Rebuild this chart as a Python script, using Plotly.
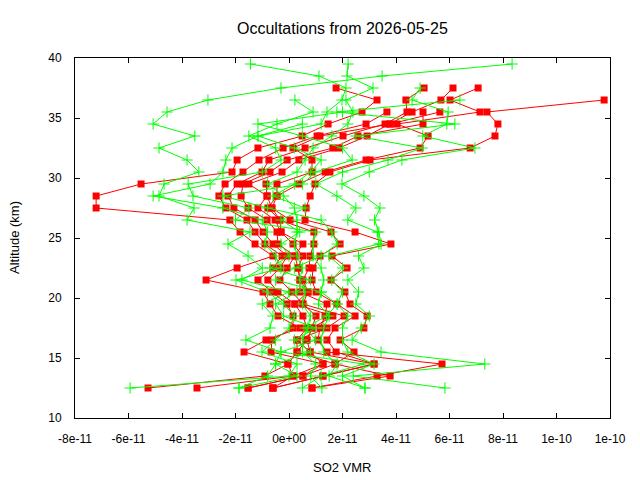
import plotly.graph_objects as go

SCALE = 1e-11  # values below are in units of 1e-11 VMR

# Altitude levels (km)
alt_red = [37.5, 36.5, 35.5, 34.5, 33.5, 32.5, 31.5, 30.5, 29.5, 28.5, 27.5, 26.5, 25.5,
           24.5, 23.5, 22.5, 21.5, 20.5, 19.5, 18.5, 17.5, 16.5, 15.5, 14.5, 13.5, 12.5]
alt_green = [39.5, 38.5] + alt_red

# Red profiles (SO2 VMR, x1e-11)
red_A = [1.76, 3.29, 2.73, 1.46, 0.49, -1.16, -1.94, -2.13, -5.53, -7.21, -7.21, -2.21, -1.83,
         -1.27, -0.60, -1.94, -3.10, -0.97, -0.71, -0.41, 0.41, -0.86, -1.68, -0.04, -0.90, -5.27]
red_B = [None, None, 3.66, 2.88, 1.05, -0.22, -1.12, -1.72, -2.39, -2.62, -2.36, -1.57, -1.27,
         -0.90, -0.26, -0.60, -1.16, -0.64, -0.07, 0.15, 0.15, -0.64, -0.67, 1.27, 0.15, -3.44]
red_C = [5.05, 4.37, 4.41, 3.59, 2.02, 0.60, -0.75, -1.01, -1.94, -2.28, -2.06, -1.27, -0.97,
         -0.60, -0.07, -0.34, -0.79, -0.41, 0.22, 0.52, 0.67, 0.30, 0.30, 1.72, 0.52, -1.53]
red_D = [None, None, 5.01, 5.01, 2.58, 1.64, -0.07, -0.71, -1.72, -1.79, -1.53, -0.82, -0.45,
         -0.41, 0.22, -0.07, -0.34, 0.11, 0.52, 1.01, 0.86, 0.67, 0.79, 3.18, 1.27, -0.60]
red_E = [6.13, 5.68, 4.60, 3.78, 2.92, 1.87, 0.37, -0.26, -1.50, -0.82, -1.16, -0.52, -0.30,
         0.15, 0.52, 0.34, 0.41, 0.41, 1.42, 1.35, 1.16, 1.08, 1.42, 5.72, 3.29, 0.86]
red_F = [None, 11.78, 7.40, 7.81, 7.70, 6.77, 3.03, 1.53, 0.97, 0.79, 0.64, 0.60, 2.47,
         3.81, 1.61, 2.17, 1.57, 2.09, 2.28, 2.92, 2.80, 1.91, 2.43, 1.72, 3.78, 0.86]
red_G = [7.07, 6.02, 7.14, 4.04, 5.20, 4.90, 2.88, 1.35, 0.37, -0.45, -0.64, 0.04, 1.57,
         1.91, 1.16, 0.90, 0.86, 1.01, 1.79, 2.47, 1.72, 1.42, 1.76, 3.18, 1.27, -0.60]
red_H = [None, None, 5.64, 3.78, 1.16, 0.15, 0.86, 0.86, -0.45, -0.45, -0.79, -0.34, 0.93,
         0.93, 0.79, 0.75, 0.52, 0.71, 0.52, 2.06, 1.42, 0.30, 0.79, 1.27, 0.52, -1.53]
red_I = [None, None, None, None, None, None, None, None, -0.86, -0.82, -0.64, -0.34, -0.30,
         0.52, 0.22, 0.34, 0.41, 0.71, 0.22, 1.64, 0.86, 0.67, 0.30, -0.04, 0.15, -0.60]

# Green profiles (SO2 VMR, x1e-11)
grn_a = [-1.44, 1.12, 2.13, 1.98, 1.42, 1.20, -1.16, -2.13, -2.36, -2.47, -2.95, -5.08, -2.47, -1.00,
         -0.80, -0.90, -0.50, -0.30, -1.98, -0.80, -0.20, 0.20, 0.00, -0.50, -1.01, 0.30, 0.00, -5.94]
grn_b = [2.21, 2.17, 3.14, 2.13, 2.39, 2.20, 1.60, 0.90, 0.60, 0.30, -0.80, -0.20, 0.20, 0.30,
         0.30, 0.20, 0.30, 0.50, 0.40, 0.60, 0.50, 0.80, 0.70, 0.50, 0.50, 1.00, 0.80, 1.23]
grn_c = [8.34, 3.48, -0.30, -3.03, -4.56, -5.08, -3.52, -4.86, -3.81, -3.37, -4.67, -4.86, -3.55, -3.81,
         -1.46, -2.28, -1.53, -1.00, -1.76, 0.00, -1.00, -0.60, -0.71, -1.61, -0.30, -0.50, -0.80, -1.87]
grn_d = [None, None, 4.90, 4.60, 5.95, 5.90, 5.00, 6.95, 4.22, 3.00, 1.98, 2.80, 3.40, 3.20,
         3.36, 3.44, 2.60, 2.80, 2.20, 2.60, 2.50, 3.00, 2.70, 2.36, 3.44, 7.32, 2.40, 5.83]
grn_e = [None, None, None, 0.22, 0.90, -0.45, -1.50, -0.50, -0.30, -1.00, -3.77, -3.59, -1.50, -2.00,
         1.00, 0.90, 0.90, 1.20, 1.30, 1.20, 1.10, 1.50, 1.30, 1.20, 1.30, 1.80, 1.50, 2.84]
grn_f = [None, None, None, 6.39, 1.79, 6.20, 2.50, 4.98, 3.70, 2.00, 1.00, 1.79, 2.50, 2.20,
         3.30, 3.36, 1.50, 2.00, 1.60, 2.00, 1.80, 2.20, 2.00, 2.00, 2.20, 3.18, 2.00, 2.84]
grn_g = [None, None, None, None, 2.00, -1.16, 0.50, 2.00, 2.36, 1.00, 0.50, -2.47, -0.80, 1.20,
         1.60, 1.80, 1.20, 0.20, -0.50, 1.20, 1.80, 1.40, 0.60, 1.00, -0.30, 2.80, 1.20, 0.50]
grn_h = [None, None, None, None, None, 0.50, -1.16, 0.20, 1.20, 0.80, 0.20, -0.60, 0.60, -0.30,
         0.40, -0.30, 0.00, -0.70, 0.80, 0.30, -0.50, -0.20, 1.00, 0.20, 0.80, -0.50, 0.30, -1.87]

red_profiles = [red_A, red_B, red_C, red_D, red_E, red_F, red_G, red_H, red_I]
green_profiles = [grn_a, grn_b, grn_c, grn_d, grn_e, grn_f, grn_g, grn_h]

x_tickvals = [-8, -6, -4, -2, 0, 2, 4, 6, 8, 10, 12]
x_ticktext = ["-8e-11", "-6e-11", "-4e-11", "-2e-11", "0e+00", "2e-11", "4e-11",
              "6e-11", "8e-11", "1e-10", "1e-10"]
y_tickvals = [10, 15, 20, 25, 30, 35, 40]

RED = "#ff0000"
GREEN = "#00ff00"
FONT = "Liberation Sans, Arial, sans-serif"


def scaled(vals):
    return [None if v is None else v * SCALE for v in vals]


fig = go.Figure()

for prof in red_profiles:
    fig.add_trace(go.Scatter(
        x=scaled(prof), y=alt_red, mode="lines+markers",
        line=dict(color=RED, width=1),
        marker=dict(symbol="square", size=7, color=RED, line=dict(width=0)),
        connectgaps=True, showlegend=False, hoverinfo="skip"))

for prof in green_profiles:
    fig.add_trace(go.Scatter(
        x=scaled(prof), y=alt_green, mode="lines+markers",
        line=dict(color=GREEN, width=1),
        marker=dict(symbol="cross-thin", size=8, color=GREEN,
                    line=dict(width=1, color=GREEN)),
        connectgaps=True, showlegend=False, hoverinfo="skip"))

axis_common = dict(
    showline=True, linecolor="black", linewidth=1, mirror="ticks",
    ticks="inside", ticklen=5, tickwidth=1, tickcolor="black",
    showgrid=False, zeroline=False,
    tickfont=dict(family=FONT, size=12, color="black"),
)

fig.update_layout(
    width=640, height=480,
    margin=dict(l=75, r=30, t=58, b=62, pad=0),
    paper_bgcolor="white", plot_bgcolor="white",
    showlegend=False,
    xaxis=dict(range=[-8e-11, 1.2e-10],
               tickvals=[v * SCALE for v in x_tickvals], ticktext=x_ticktext,
               ticklabelstandoff=10, **axis_common),
    yaxis=dict(range=[10, 40], tickvals=y_tickvals,
               ticklabelstandoff=10, **axis_common),
    annotations=[
        dict(text="Occultations from 2026-05-25", xref="paper", yref="paper",
             x=0.5, y=1, yshift=30, showarrow=False,
             font=dict(family=FONT, size=16, color="black"),
             xanchor="center", yanchor="middle"),
        dict(text="SO2 VMR", xref="paper", yref="paper",
             x=0.5, y=0, yshift=-49, showarrow=False,
             font=dict(family=FONT, size=13, color="black"),
             xanchor="center", yanchor="middle"),
        dict(text="Altitude (km)", xref="paper", yref="paper",
             x=0, y=0.5, xshift=-61, showarrow=False, textangle=-90,
             font=dict(family=FONT, size=13, color="black"),
             xanchor="center", yanchor="middle"),
    ],
)

fig.write_html("out.html")
